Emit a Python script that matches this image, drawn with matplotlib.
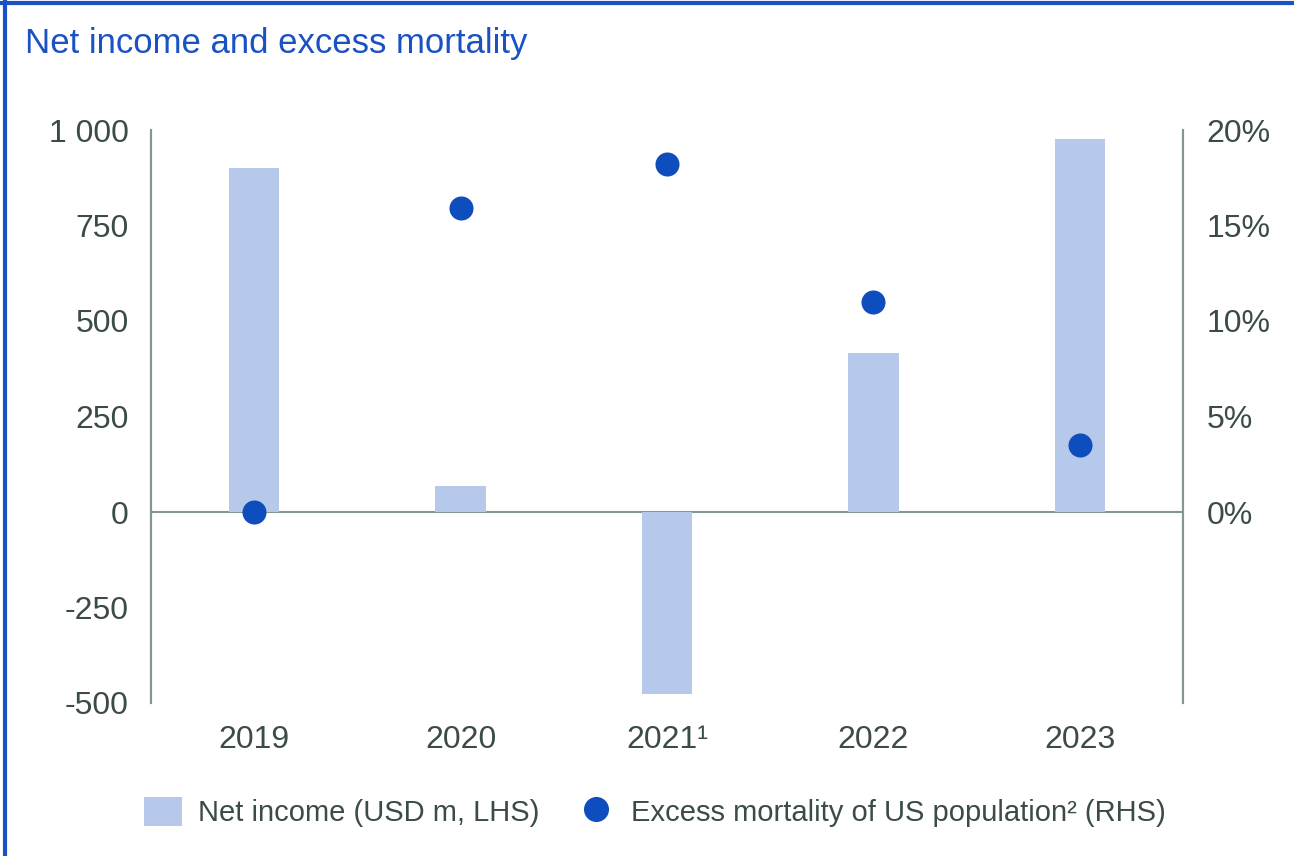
import matplotlib.pyplot as plt
from matplotlib.patches import Patch
from matplotlib.lines import Line2D
from matplotlib.ticker import FuncFormatter

# Chart data
years = ["2019", "2020", "2021\u00b9", "2022", "2023"]
net_income = [900, 68, -476, 416, 976]          # USD m, LHS
excess_mortality = [0.0, 15.9, 18.2, 11.0, 3.5]  # %, RHS
left_ticks = [-500, -250, 0, 250, 500, 750, 1000]
right_ticks = [0, 5, 10, 15, 20]

# Colours
BAR = "#b7c9ea"
DOT = "#0e4dbd"
BLUE = "#1a52c4"
GRID = "#83968f"
TEXT = "#3b4b47"

plt.rcParams['font.family'] = ['Liberation Sans', 'DejaVu Sans']

fig = plt.figure(figsize=(12.94, 8.56), dpi=100)
ax = fig.add_axes([151 / 1294, 1 - 703 / 856, 1032 / 1294, 573 / 856])
ax2 = ax.twinx()

x = list(range(len(years)))
ax.bar(x, net_income, width=0.245, color=BAR, zorder=2)
ax.axhline(0, color=GRID, lw=1.5, zorder=1)
ax2.scatter(x, excess_mortality, s=300, color=DOT, zorder=3, linewidths=0)

ax.set_xlim(-0.5, len(years) - 0.5)
ax.set_ylim(-500, 1000)
ax2.set_ylim(-10, 20)

ax.set_yticks(left_ticks)
ax.yaxis.set_major_formatter(FuncFormatter(lambda v, p: f"{v:,.0f}".replace(",", " ")))
ax2.set_yticks(right_ticks)
ax2.yaxis.set_major_formatter(FuncFormatter(lambda v, p: f"{v:.0f}%"))
ax.set_xticks(x)
ax.set_xticklabels(years)

ax.tick_params(axis='y', length=0, pad=16, labelsize=23, labelcolor=TEXT)
ax2.tick_params(axis='y', length=0, pad=17, labelsize=23, labelcolor=TEXT)
ax.tick_params(axis='x', length=0, pad=16, labelsize=23, labelcolor=TEXT)

for a in (ax, ax2):
    a.spines['top'].set_visible(False)
    a.spines['bottom'].set_visible(False)
    a.spines['left'].set_color(GRID)
    a.spines['right'].set_color(GRID)
    a.spines['left'].set_linewidth(1.5)
    a.spines['right'].set_linewidth(1.5)

# Title and frame lines
fig.text(25 / 1294, 1 - 43 / 856, "Net income and excess mortality", color=BLUE,
         fontsize=25, va='center', ha='left')
fig.add_artist(Line2D([0, 1], [1 - 3 / 856, 1 - 3 / 856], color=BLUE, lw=3))
fig.add_artist(Line2D([5 / 1294, 5 / 1294], [0, 1 - 2 / 856], color=BLUE, lw=3))

# Legend
handles = [
    Patch(facecolor=BAR, edgecolor='none'),
    Line2D([], [], marker='o', ls='none', color=DOT, markersize=17),
]
labels = ["Net income (USD m, LHS)", "Excess mortality of US population\u00b2 (RHS)"]
fig.legend(handles, labels, loc='center left', bbox_to_anchor=(118 / 1294, 1 - 812 / 856),
           ncol=2, frameon=False, fontsize=21, labelcolor=TEXT, handlelength=1.3,
           handleheight=1.15, handletextpad=0.55, columnspacing=1.3)

fig.savefig("out.png", dpi=100)
